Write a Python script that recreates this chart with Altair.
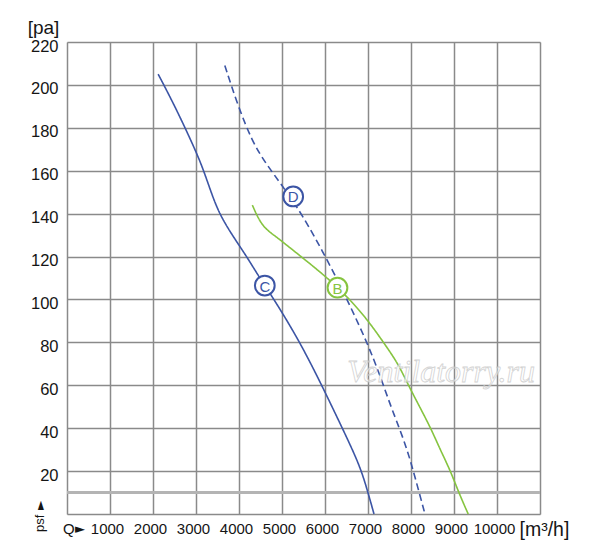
import altair as alt
import pandas as pd

# --- data ---
c_q = [2120, 2500, 2980, 3180, 3350, 3540, 3840, 4180, 4450, 4850, 5420, 5900, 6260, 6640, 6850, 7000, 7140]
c_p = [205, 190.5, 170, 160, 150, 140, 130, 120, 111, 99, 80, 61, 46, 30, 20, 10, 0]

d_q = [3670, 3980, 4300, 4600, 4990, 5460, 6040, 6540, 7000, 7290, 7515, 7730, 7910, 8055, 8190, 8325]
d_p = [209, 190, 174, 164, 153.5, 140, 119, 99, 79, 64, 51, 40, 30, 20, 10, 0]

b_q = [4310, 4530, 4850, 5190, 6040, 6580, 7010, 7430, 7700, 7940, 8200, 8460, 8680, 8920, 9110, 9330]
b_p = [144, 134, 129.5, 124, 110.5, 100, 90, 78, 70, 60, 50, 40, 30, 20, 10, 0]

series_names = ["C", "D", "B"]
series_colors = ["#3c55a5", "#3c55a5", "#86c440"]
series_dash = [[1, 0], [7, 4], [1, 0]]

label_q = [4600, 5260, 6290]
label_p = [106.5, 148, 105.5]

x_grid = list(range(0, 11001, 1000))
y_grid = list(range(0, 221, 10))
band_p = [10]

watermark_q = [8700]
watermark_p = [66]

# --- tables ---
rows = []
for name, qs, ps in [("C", c_q, c_p), ("D", d_q, d_p), ("B", b_q, b_p)]:
    for q, p in zip(qs, ps):
        rows.append({"series": name, "Q": q, "p": p})
curves = pd.DataFrame(rows)
labels = pd.DataFrame({"series": series_names, "Q": label_q, "p": label_p})

FONT = "Liberation Sans"
TXT = "#151515"
W, H = 473, 472

x_scale = alt.Scale(domain=[0, 11000], nice=False, zero=False)
y_scale = alt.Scale(domain=[0, 220], nice=False)
color_scale = alt.Scale(domain=series_names, range=series_colors)
dash_scale = alt.Scale(domain=series_names, range=series_dash)

x_axis = alt.Axis(
    values=x_grid,
    labelExpr="(datum.value >= 1000 && datum.value <= 10000) ? format(datum.value, 'd') : ''",
    grid=True, gridColor="#8a8a8a", gridWidth=1.5,
    domain=False, ticks=False,
    labelFont=FONT, labelFontSize=15, labelColor=TXT, labelPadding=7,
    labelOffset=-3, labelFlush=False, labelOverlap=False,
    title="[m³/h]", titleFont=FONT, titleFontSize=19.5, titleFontWeight="normal",
    titleColor=TXT, titleX=452, titleY=21, titleAlign="left",
    titleBaseline="alphabetic", titleAnchor="start",
)
y_axis = alt.Axis(
    values=y_grid,
    labelExpr="(datum.value >= 20 && datum.value % 20 == 0) ? format(datum.value, 'd') : ''",
    grid=True, gridColor="#8a8a8a", gridWidth=1.5,
    domain=False, ticks=False,
    labelFont=FONT, labelFontSize=16.5, labelColor=TXT, labelPadding=9,
    labelOffset=4, labelFlush=False, labelOverlap=False,
    title="[pa]", titleFont=FONT, titleFontSize=19, titleFontWeight="normal",
    titleColor=TXT, titleAngle=0, titleX=-24, titleY=-9,
    titleAlign="center", titleBaseline="alphabetic",
)

base_grid = alt.Chart(pd.DataFrame({"p": band_p})).mark_rule(
    color="#b4b4b4", strokeWidth=3
).encode(
    y=alt.Y("p:Q", scale=y_scale, axis=y_axis),
)

x_axis_layer = alt.Chart(pd.DataFrame({"Q": x_grid})).mark_point(opacity=0).encode(
    x=alt.X("Q:Q", scale=x_scale, axis=x_axis),
)

lines = alt.Chart(curves).mark_line(strokeWidth=1.6, interpolate="basis").encode(
    x=alt.X("Q:Q", scale=x_scale),
    y=alt.Y("p:Q", scale=y_scale),
    color=alt.Color("series:N", scale=color_scale, legend=None),
    strokeDash=alt.StrokeDash("series:N", scale=dash_scale, legend=None),
    detail="series:N",
    order="Q:Q",
)

circles = alt.Chart(labels).mark_point(
    shape="circle", filled=False, fill="white", fillOpacity=1, size=390, strokeWidth=2
).encode(
    x=alt.X("Q:Q", scale=x_scale),
    y=alt.Y("p:Q", scale=y_scale),
    stroke=alt.Stroke("series:N", scale=color_scale, legend=None),
)

letters = alt.Chart(labels).mark_text(
    font=FONT, fontSize=15, align="center", baseline="middle", dy=1
).encode(
    x=alt.X("Q:Q", scale=x_scale),
    y=alt.Y("p:Q", scale=y_scale),
    text="series:N",
    color=alt.Color("series:N", scale=color_scale, legend=None),
)

watermark = alt.Chart(pd.DataFrame({"Q": watermark_q, "p": watermark_p, "t": ["Ventilatorry.ru"]})).mark_text(
    font="Liberation Serif", fontStyle="italic", fontSize=32, fill="#ffffff",
    stroke="#c4c4c4", strokeWidth=0.8, opacity=0.75, align="center", baseline="middle"
).encode(
    x=alt.X("Q:Q", scale=x_scale),
    y=alt.Y("p:Q", scale=y_scale),
    text="t:N",
)

q_text = alt.Chart(pd.DataFrame({"t": ["Q"]})).mark_text(
    font=FONT, fontSize=15, align="left", baseline="alphabetic", color=TXT
).encode(
    x=alt.value(-4), y=alt.value(H + 20), text="t:N"
)
q_arrow = alt.Chart(pd.DataFrame({"t": ["►"]})).mark_text(
    font="DejaVu Sans", fontSize=13, align="left", baseline="alphabetic", color=TXT
).encode(
    x=alt.value(8), y=alt.value(H + 19), text="t:N"
)

p_text = alt.Chart(pd.DataFrame({"t": ["psf"]})).mark_text(
    font=FONT, fontSize=13, align="left", baseline="middle", angle=270, color=TXT
).encode(
    x=alt.value(-27), y=alt.value(H + 18), text="t:N"
)
p_arrow = alt.Chart(pd.DataFrame({"t": ["►"]})).mark_text(
    font="DejaVu Sans", fontSize=12, align="left", baseline="middle", angle=270, color=TXT
).encode(
    x=alt.value(-27), y=alt.value(H - 4), text="t:N"
)

chart = alt.layer(
    base_grid, x_axis_layer, lines, watermark, circles, letters,
    q_text, q_arrow, p_text, p_arrow
).properties(
    width=W, height=H,
    padding={"left": 59, "top": 34, "right": 44, "bottom": 30},
    autosize=alt.AutoSizeParams(type="none"),
).configure_view(stroke=None).configure(background="white")

chart.save("out.html", embed_options={"renderer": "svg", "actions": False})
